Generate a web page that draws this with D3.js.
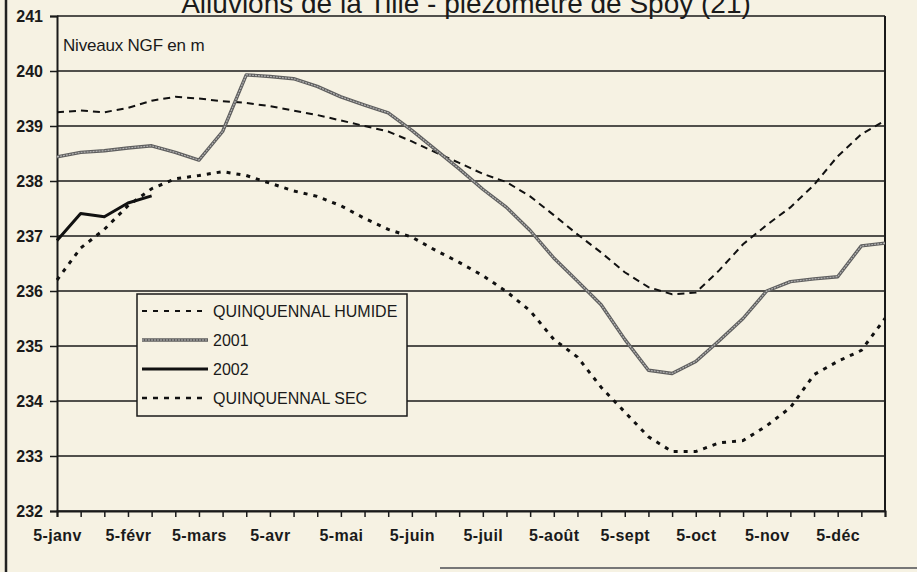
<!DOCTYPE html>
<html>
<head>
<meta charset="utf-8">
<script src="https://cdn.jsdelivr.net/npm/d3@7"></script>
<style>
  html, body { margin: 0; padding: 0; background: #f6f2e3; }
  svg { display: block; font-family: "Liberation Sans", Arial, sans-serif; }
</style>
</head>
<body>
<svg id="chart" width="917" height="572"></svg>
<script>
// categories : 5, 15, 25 de chaque mois
var months = ["janv", "févr", "mars", "avr", "mai", "juin", "juil", "août", "sept", "oct", "nov", "déc"];
var days = [5, 15, 25];
var categories = [];
months.forEach(function (m) {
  days.forEach(function (d) { categories.push(d + "-" + m); });
});

var yTicks = [232, 233, 234, 235, 236, 237, 238, 239, 240, 241];

var humide = [239.25, 239.28, 239.25, 239.33, 239.46, 239.53, 239.5, 239.45, 239.42, 239.36,
  239.28, 239.2, 239.1, 239.0, 238.9, 238.72, 238.52, 238.33, 238.13, 237.98,
  237.72, 237.38, 237.03, 236.7, 236.34, 236.07, 235.94, 235.97, 236.38, 236.85,
  237.2, 237.52, 237.93, 238.45, 238.85, 239.1];

var an2001 = [238.44, 238.52, 238.55, 238.6, 238.64, 238.52, 238.38, 238.9, 239.93, 239.9,
  239.86, 239.72, 239.53, 239.38, 239.24, 238.92, 238.57, 238.22, 237.85, 237.52,
  237.1, 236.6, 236.18, 235.75, 235.12, 234.56, 234.5, 234.72, 235.1, 235.5,
  236.0, 236.17, 236.22, 236.26, 236.82, 236.87];

var an2002 = [236.92, 237.41, 237.35, 237.6, 237.73];

var sec = [236.2, 236.78, 237.12, 237.55, 237.86, 238.04, 238.1, 238.17, 238.1, 237.96,
  237.82, 237.72, 237.55, 237.32, 237.12, 236.98, 236.74, 236.52, 236.28, 235.99,
  235.64, 235.12, 234.8, 234.25, 233.8, 233.35, 233.08, 233.08, 233.24, 233.28,
  233.55, 233.88, 234.48, 234.72, 234.92, 235.5];

var svg = d3.select("#chart");
var plotLeft = 57, plotRight = 885, plotTop = 16, plotBottom = 511;

var x = d3.scalePoint().domain(categories).range([plotLeft, plotRight]);
var y = d3.scaleLinear().domain([232, 241]).range([plotBottom, plotTop]);

// cadre extérieur
svg.append("line").attr("x1", 6).attr("x2", 6).attr("y1", 0).attr("y2", 572)
  .attr("stroke", "#222").attr("stroke-width", 2.5);
svg.append("line").attr("x1", 440).attr("x2", 917).attr("y1", 568).attr("y2", 568)
  .attr("stroke", "#777").attr("stroke-width", 2);

// quadrillage
svg.append("g")
  .selectAll("line")
  .data(yTicks)
  .enter()
  .append("line")
  .attr("x1", plotLeft).attr("x2", plotRight)
  .attr("y1", function (d) { return y(d); })
  .attr("y2", function (d) { return y(d); })
  .attr("stroke", "#1a1a1a")
  .attr("stroke-width", 1.5);

svg.append("line").attr("x1", plotRight).attr("x2", plotRight).attr("y1", plotTop).attr("y2", plotBottom)
  .attr("stroke", "#1a1a1a").attr("stroke-width", 2);

// axe Y
var yAxis = svg.append("g")
  .attr("transform", "translate(" + plotLeft + ",0)")
  .call(d3.axisLeft(y).tickValues(yTicks).tickSize(7).tickPadding(7).tickFormat(d3.format("d")));
yAxis.select(".domain").attr("stroke", "#1a1a1a").attr("stroke-width", 2);
yAxis.selectAll(".tick line").attr("stroke", "#1a1a1a").attr("stroke-width", 1.5);
yAxis.selectAll("text").attr("fill", "#1a1a1a").style("font-size", "16px").style("font-weight", "bold");

// axe X : graduations
var xAxis = svg.append("g")
  .attr("transform", "translate(0," + plotBottom + ")")
  .call(d3.axisBottom(x).tickSize(6).tickFormat(""));
xAxis.select(".domain").attr("stroke", "#1a1a1a").attr("stroke-width", 2);
xAxis.selectAll(".tick line").attr("stroke", "#1a1a1a").attr("stroke-width", 1.5);

// axe X : libellés
var xLabels = svg.append("g")
  .attr("transform", "translate(0," + plotBottom + ")")
  .call(d3.axisBottom(x)
    .tickValues(categories.filter(function (c) { return c.indexOf("5-") === 0; }))
    .tickSize(0).tickPadding(19));
xLabels.select(".domain").remove();
xLabels.selectAll("text").attr("fill", "#1a1a1a").style("font-size", "16px")
  .style("font-weight", "bold").style("letter-spacing", "0.4px");

// titres
svg.append("text")
  .attr("x", 466).attr("y", 13)
  .attr("text-anchor", "middle")
  .style("font-size", "28px")
  .attr("fill", "#1a1a1a")
  .text("Alluvions de la Tille - piézomètre de Spoy (21)");

svg.append("text")
  .attr("x", 63).attr("y", 51)
  .style("font-size", "17px")
  .style("letter-spacing", "-0.2px")
  .attr("fill", "#1a1a1a")
  .text("Niveaux NGF en m");

// courbes
var line = d3.line()
  .x(function (d, i) { return x(categories[i]); })
  .y(function (d) { return y(d); });

svg.append("path").datum(humide)
  .attr("fill", "none").attr("stroke", "#111").attr("stroke-width", 2)
  .attr("stroke-dasharray", "7,5").attr("d", line);

svg.append("path").datum(sec)
  .attr("fill", "none").attr("stroke", "#111").attr("stroke-width", 3)
  .attr("stroke-dasharray", "4,6").attr("d", line);

svg.append("path").datum(an2001)
  .attr("fill", "none").attr("stroke", "#5e5e5e").attr("stroke-width", 3.4)
  .attr("stroke-linejoin", "round").attr("d", line);
svg.append("path").datum(an2001)
  .attr("fill", "none").attr("stroke", "#b4b4b4").attr("stroke-width", 1.2)
  .attr("stroke-dasharray", "2,1").attr("stroke-linejoin", "round").attr("d", line);

svg.append("path").datum(an2002)
  .attr("fill", "none").attr("stroke", "#111").attr("stroke-width", 3)
  .attr("stroke-linejoin", "round").attr("d", line);

// légende
var legend = svg.append("g");
legend.append("rect")
  .attr("x", 137).attr("y", 294).attr("width", 270).attr("height", 122)
  .attr("fill", "#f6f2e3").attr("stroke", "#1a1a1a").attr("stroke-width", 1.5);

var legendItems = [
  { name: "QUINQUENNAL HUMIDE", dash: "5,6", width: 2, color: "#111" },
  { name: "2001", dash: null, width: 3.4, color: "#5e5e5e" },
  { name: "2002", dash: null, width: 3, color: "#111" },
  { name: "QUINQUENNAL SEC", dash: "5,6", width: 2.4, color: "#111" }
];
var rows = legend.selectAll("g.item")
  .data(legendItems)
  .enter()
  .append("g")
  .attr("class", "item")
  .attr("transform", function (d, i) { return "translate(0," + (311 + i * 29) + ")"; });
rows.append("line")
  .attr("x1", 142).attr("x2", 208).attr("y1", 0).attr("y2", 0)
  .attr("stroke", function (d) { return d.color; })
  .attr("stroke-width", function (d) { return d.width; })
  .attr("stroke-dasharray", function (d) { return d.dash; });
rows.filter(function (d) { return d.name === "2001"; })
  .append("line")
  .attr("x1", 142).attr("x2", 208).attr("y1", 0).attr("y2", 0)
  .attr("stroke", "#b4b4b4").attr("stroke-width", 1.2).attr("stroke-dasharray", "2,1");
rows.append("text")
  .attr("x", 213).attr("y", 6)
  .style("font-size", "16px")
  .attr("fill", "#1a1a1a")
  .text(function (d) { return d.name; });
</script>
</body>
</html>
